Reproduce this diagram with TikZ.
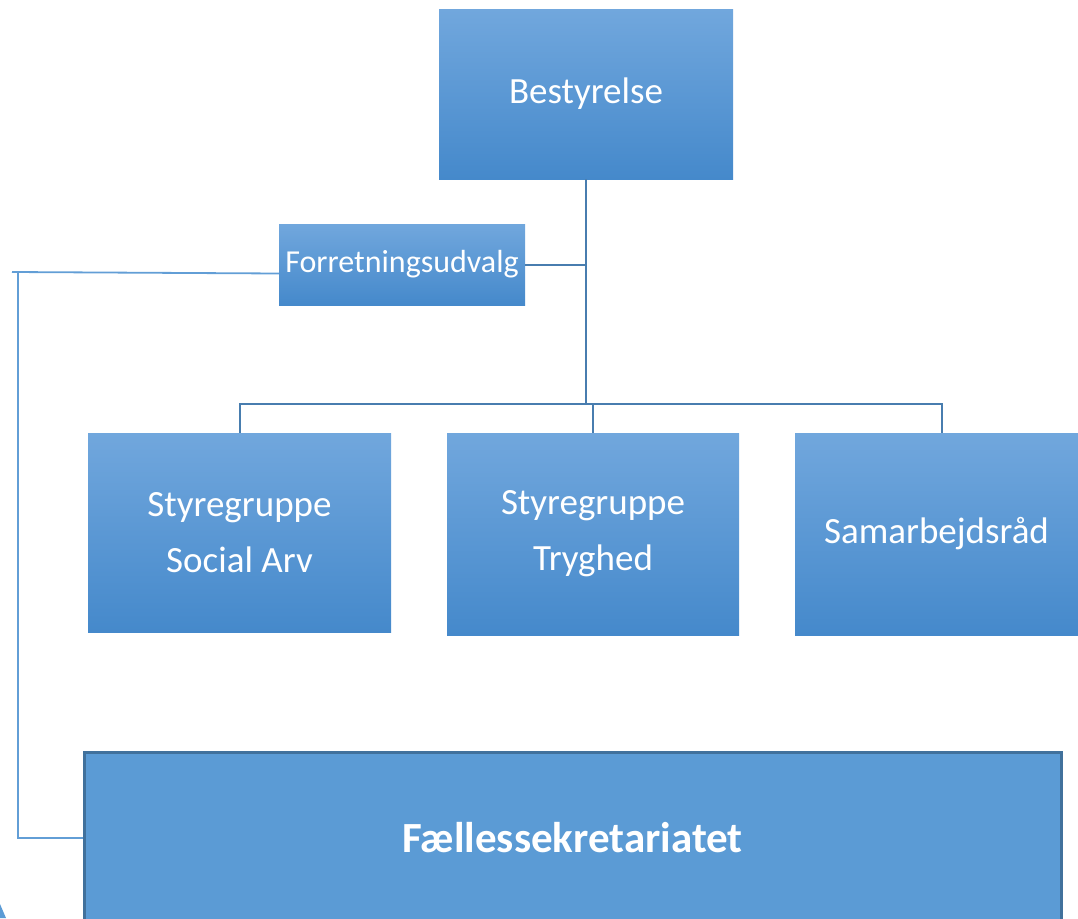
\documentclass[tikz,border=0pt]{standalone}
\usepackage{fontspec}
\setmainfont{Carlito}
\usepackage{tikz}
\usetikzlibrary{positioning, calc}
\usepackage{xcolor}
\definecolor{boxtop}{RGB}{113, 167, 221}
\definecolor{boxbottom}{RGB}{69, 137, 203}
\definecolor{secfill}{RGB}{91, 155, 213}
\definecolor{secline}{RGB}{65, 113, 156}
\definecolor{trunk}{RGB}{72, 125, 175}
\definecolor{leftline}{RGB}{98, 158, 214}
\tikzset{
    orgbox/.style={rectangle, inner sep=0pt, align=center, text=white, top color=boxtop, bottom color=boxbottom, draw=none, font=\fontsize{37}{56}\selectfont},
    smallbox/.style={orgbox, font=\fontsize{32}{38}\selectfont},
    secbox/.style={rectangle, inner sep=0pt, align=center, text=white, fill=secfill, draw=secline, line width=3pt, font=\fontsize{43}{50}\selectfont\bfseries},
    link/.style={line width=2pt, trunk},
    sidelink/.style={line width=1.8pt, leftline}
}
\begin{document}
\begin{tikzpicture}[x=1pt, y=-1pt]
    \useasboundingbox (0,0) rectangle (1078,918);

    % Board
    \node[orgbox, minimum width=294pt, minimum height=170pt] (best) at (586, 94) {Bestyrelse};

    % Executive committee
    \node[smallbox, minimum width=246pt, minimum height=81pt] (forr) at (402, 264.5) {Forretningsudvalg};

    % Steering groups
    \node[orgbox, minimum width=303pt, minimum height=199pt] (sarv) at (239.5, 532.5) {Styregruppe\\Social Arv};
    \node[orgbox, minimum width=292pt, minimum height=202pt] (tryg) at (593, 534) {Styregruppe\\Tryghed};
    \node[orgbox, minimum width=283pt, minimum height=202pt] (samr) at (936.5, 534) {Samarbejdsråd};

    % Secretariat
    \node[secbox, minimum width=977pt, minimum height=172pt] (fael) at (572.5, 838) {Fællessekretariatet};

    % Connectors
    \coordinate (bus) at ($(best.south)+(0,225)$);
    \draw[link] (best.south) -- (bus);
    \draw[link] (forr.east) -- (best.south |- forr.east);
    \draw[link] (sarv.north) |- (tryg.north |- bus) -| ([xshift=5.5pt]samr.north);
    \draw[link] (tryg.north) -- (tryg.north |- bus);
    \coordinate (lcorner) at (18, 272);
    \draw[sidelink] ([yshift=-9pt]forr.west) -- (12, 272);
    \draw[sidelink] (lcorner) -- (lcorner |- fael.west) -- (fael.west);

    % corner fragment
    \fill[secfill] (0, 904) -- (6, 918) -- (0, 918) -- cycle;
\end{tikzpicture}
\end{document}
